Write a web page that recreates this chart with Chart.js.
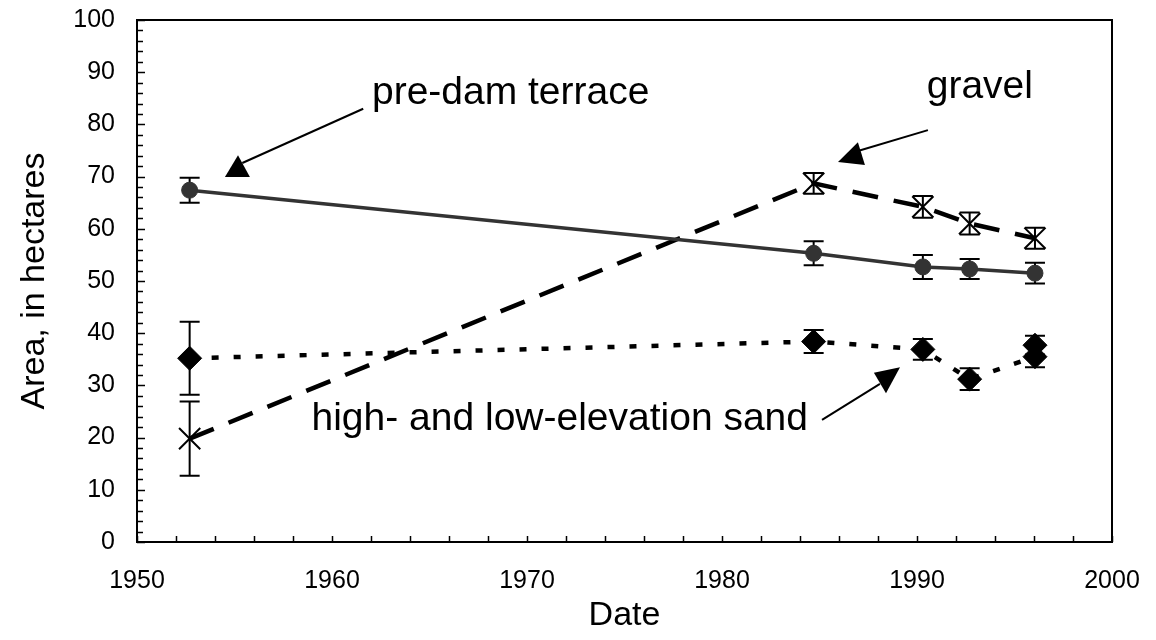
<!DOCTYPE html>
<html>
<head>
<meta charset="utf-8">
<script src="https://cdn.jsdelivr.net/npm/chart.js@4/dist/chart.umd.min.js"></script>
<style>
  html, body { margin: 0; padding: 0; background: #fff; }
  #wrap { width: 1156px; height: 640px; }
</style>
</head>
<body>
<div id="wrap"><canvas id="areaChart" width="1156" height="640"></canvas></div>
<script>
// data
const years = [1952.7, 1984.7, 1990.3, 1992.7, 1996.05];
const preDam = [67.4, 55.3, 52.7, 52.3, 51.5];
const preDamErr = [2.4, 2.3, 2.3, 1.9, 2.0];
const gravel = [19.8, 68.7, 64.2, 61.0, 58.2];
const gravelErr = [7.1, 2.0, 2.1, 2.1, 2.0];
const sand = [35.2, 38.4, 36.9, 31.2, 35.5];
const sandErr = [7.0, 2.2, 2.0, 2.1, 2.0];
const sandExtraYear = [1996.05];
const sandExtra = [37.7];
const sandExtraErr = [1.8];
const xTicks = [1950, 1960, 1970, 1980, 1990, 2000];
const yTicks = [0, 10, 20, 30, 40, 50, 60, 70, 80, 90, 100];

const FONT = '"Liberation Sans", Arial, sans-serif';

function pts(xs, ys) {
  return xs.map((x, i) => ({ x: x, y: ys[i] }));
}

// callouts, in data units
const notes = [
  { text: 'pre-dam terrace', x: 1962.05, y: 83.9, align: 'left',
    line: [[1961.6, 83.0], [1955.4, 72.6]],
    head: [[1955.18, 74.1], [1954.51, 69.9], [1955.79, 69.9]] },
  { text: 'gravel', x: 1990.5, y: 85.1, align: 'left',
    line: [[1990.56, 78.9], [1986.97, 74.9]],
    head: [[1985.95, 72.8], [1986.97, 76.6], [1987.33, 72.2]] },
  { text: 'high- and low-elevation sand', x: 1984.41, y: 21.5, align: 'right',
    line: [[1985.13, 23.4], [1988.1, 30.3]],
    head: [[1989.13, 33.5], [1987.79, 32.4], [1988.41, 28.5]] }
];

// error bars behind the markers
const errorBars = {
  id: 'errorBars',
  beforeDatasetsDraw(chart) {
    const ctx = chart.ctx;
    const y = chart.scales.y;
    ctx.save();
    ctx.strokeStyle = '#000';
    ctx.lineWidth = 2;
    chart.data.datasets.forEach((ds, di) => {
      if (!ds.errors) return;
      const meta = chart.getDatasetMeta(di);
      meta.data.forEach((p, i) => {
        const v = ds.data[i].y, e = ds.errors[i];
        const top = y.getPixelForValue(v + e);
        const bot = y.getPixelForValue(v - e);
        ctx.beginPath();
        ctx.moveTo(p.x, top); ctx.lineTo(p.x, bot);
        ctx.moveTo(p.x - 10, top); ctx.lineTo(p.x + 10, top);
        ctx.moveTo(p.x - 10, bot); ctx.lineTo(p.x + 10, bot);
        ctx.stroke();
      });
    });
    ctx.restore();
  }
};

// frame, inside ticks and callouts
const frame = {
  id: 'frame',
  afterDraw(chart) {
    const ctx = chart.ctx;
    const a = chart.chartArea;
    const xs = chart.scales.x, ys = chart.scales.y;
    ctx.save();
    ctx.strokeStyle = '#000';
    ctx.lineWidth = 1.5;
    ctx.beginPath();
    for (let v = 0; v <= 100; v += 2) {
      const py = Math.round(ys.getPixelForValue(v)) + 0.5;
      ctx.moveTo(a.left, py);
      ctx.lineTo(a.left + (v % 10 === 0 ? 8 : 6), py);
    }
    for (let v = 1950; v <= 2000; v += 2) {
      const px = Math.round(xs.getPixelForValue(v)) + 0.5;
      ctx.moveTo(px, a.bottom);
      ctx.lineTo(px, a.bottom - 6);
    }
    ctx.stroke();
    ctx.lineWidth = 2;
    ctx.strokeRect(a.left, a.top, a.right - a.left, a.bottom - a.top);

    ctx.fillStyle = '#000';
    ctx.font = '39px ' + FONT;
    ctx.textBaseline = 'alphabetic';
    notes.forEach(n => {
      ctx.textAlign = n.align;
      ctx.fillText(n.text, xs.getPixelForValue(n.x), ys.getPixelForValue(n.y));
      ctx.lineWidth = 2;
      ctx.beginPath();
      ctx.moveTo(xs.getPixelForValue(n.line[0][0]), ys.getPixelForValue(n.line[0][1]));
      ctx.lineTo(xs.getPixelForValue(n.line[1][0]), ys.getPixelForValue(n.line[1][1]));
      ctx.stroke();
      ctx.beginPath();
      n.head.forEach((h, i) => {
        const px = xs.getPixelForValue(h[0]), py = ys.getPixelForValue(h[1]);
        if (i === 0) ctx.moveTo(px, py); else ctx.lineTo(px, py);
      });
      ctx.closePath();
      ctx.fill();
    });
    ctx.restore();
  }
};

const ctx = document.getElementById('areaChart').getContext('2d');
const chart = new Chart(ctx, {
  type: 'scatter',
  data: {
    datasets: [
      {
        label: 'pre-dam terrace',
        data: pts(years, preDam),
        errors: preDamErr,
        showLine: true,
        borderColor: '#333333',
        borderWidth: 3.5,
        pointStyle: 'circle',
        pointRadius: 8,
        pointBackgroundColor: '#333333',
        pointBorderColor: '#333333',
        pointBorderWidth: 1
      },
      {
        label: 'gravel',
        data: pts(years, gravel),
        errors: gravelErr,
        showLine: true,
        borderColor: '#000',
        borderWidth: 4.5,
        borderDash: [26, 16],
        pointStyle: 'crossRot',
        pointRadius: 15,
        pointBorderColor: '#000',
        pointBorderWidth: 2
      },
      {
        label: 'high- and low-elevation sand',
        data: pts(years, sand),
        errors: sandErr,
        showLine: true,
        borderColor: '#000',
        borderWidth: 4.5,
        borderDash: [7, 15],
        pointStyle: 'rectRot',
        pointRadius: 12,
        pointBackgroundColor: '#000',
        pointBorderColor: '#000',
        pointBorderWidth: 1
      },
      {
        label: 'sand (second)',
        data: pts(sandExtraYear, sandExtra),
        errors: sandExtraErr,
        showLine: false,
        pointStyle: 'rectRot',
        pointRadius: 12,
        pointBackgroundColor: '#000',
        pointBorderColor: '#000',
        pointBorderWidth: 1
      }
    ]
  },
  options: {
    responsive: false,
    animation: false,
    layout: { padding: { left: 0, top: 20, right: 44, bottom: 0 } },
    plugins: {
      legend: { display: false },
      tooltip: { enabled: false }
    },
    scales: {
      x: {
        type: 'linear',
        min: 1950,
        max: 2000,
        afterFit: s => { s.height = 98; s.paddingLeft = 0; s.paddingRight = 0; },
        afterBuildTicks: s => { s.ticks = xTicks.map(v => ({ value: v })); },
        grid: { display: false, drawTicks: false },
        border: { display: false },
        ticks: { color: '#000', font: { family: FONT, size: 25 }, padding: 24, maxRotation: 0,
          callback: v => String(v) },
        title: { display: true, text: 'Date', color: '#000', font: { family: FONT, size: 34 }, padding: { top: 0, bottom: 4 } }
      },
      y: {
        min: 0,
        max: 100,
        afterFit: s => { s.width = 137; s.paddingTop = 0; s.paddingBottom = 0; },
        afterBuildTicks: s => { s.ticks = yTicks.map(v => ({ value: v })); },
        grid: { display: false, drawTicks: false },
        border: { display: false },
        ticks: { color: '#000', font: { family: FONT, size: 25 }, padding: 22,
          callback: v => String(v) },
        title: { display: true, text: 'Area, in hectares', color: '#000', font: { family: FONT, size: 34 }, padding: { top: 14, bottom: 0 } }
      }
    }
  },
  plugins: [errorBars, frame]
});
</script>
</body>
</html>
